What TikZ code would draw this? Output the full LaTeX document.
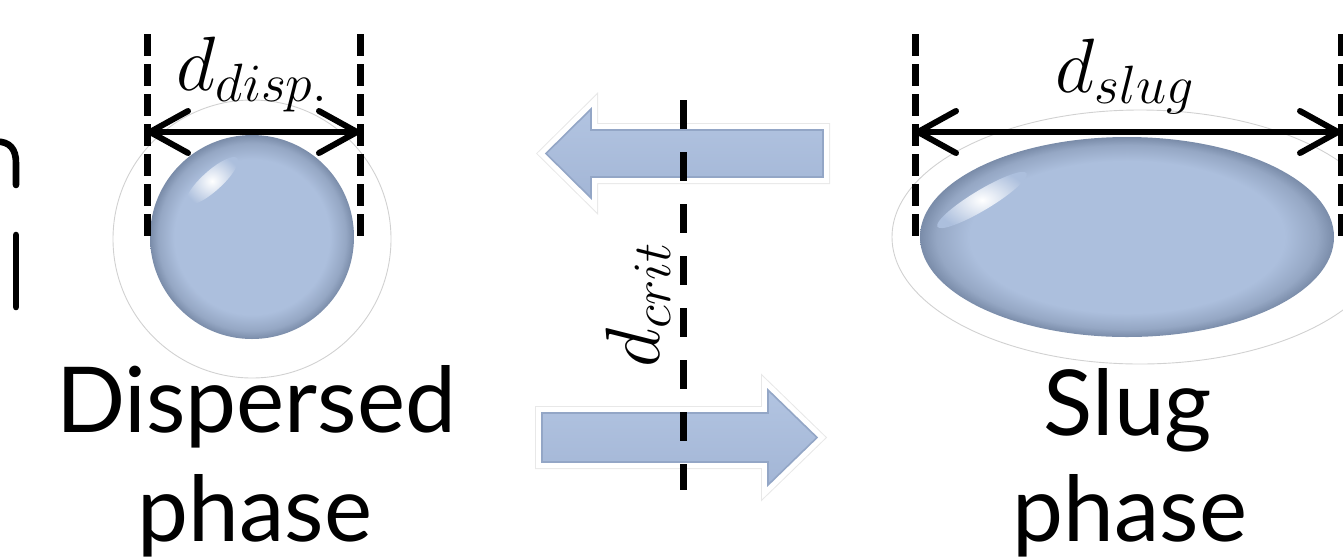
\RequirePackage{fix-cm}
\documentclass[tikz,border=0pt]{standalone}
\usepackage{fontspec}
\setmainfont{Lato}
\usetikzlibrary{arrows.meta}

\definecolor{ballmid}{HTML}{ACBFDD}
\definecolor{ballrim}{HTML}{95A7C4}
\definecolor{balldark}{HTML}{7A8CA9}
\definecolor{arrtop}{HTML}{B2C4E1}
\definecolor{arrbot}{HTML}{A3B6D6}
\definecolor{arrline}{HTML}{93A6C6}

% droplet body: flat centre, darker bevelled rim
\pgfdeclareradialshading{droplet}{\pgfpoint{0bp}{0bp}}{%
  color(0bp)=(ballmid); color(19bp)=(ballmid); color(23bp)=(ballrim);
  color(25bp)=(balldark); color(50bp)=(balldark)}

\newcommand{\blockarrow}[1]{%
  \draw[arrglow] #1;
  \draw[arrrim] #1;
  \shade[arrbody] #1;
  \draw[arredge] #1;}

\tikzset{
  barb/.tip={Straight Barb[length=38pt, width=42pt, round]},
  glyphstroke/.style={line width=6.6pt, line cap=round},
  guide/.style={line width=7pt, dash pattern=on 22pt off 8pt},
  critline/.style={line width=7pt, dash pattern=on 29pt off 23pt},
  halo/.style={draw=black!18, line width=0.9pt},
  dim/.style={line width=6pt, barb-barb},
  phase/.style={font=\fontsize{91}{110}\selectfont, inner sep=0pt, anchor=base},
  mlabel/.style={font=\fontsize{77}{90}\selectfont, inner sep=0pt},
  arrglow/.style={draw=black!9, line width=14pt, line join=miter},
  arrrim/.style={draw=white, line width=12pt, line join=miter},
  arrbody/.style={top color=arrtop, bottom color=arrbot},
  arredge/.style={draw=arrline, line width=1.6pt, line join=miter},
  gloss/.style={inner color=white, outer color=ballmid},
}

\begin{document}
\begin{tikzpicture}[x=1pt, y=-1pt]
\useasboundingbox (0,0) rectangle (1343,558);
\clip (0,0) rectangle (1343,558);

% strokes of lettering cut off at the left border
\draw[glyphstroke] (-4,141.5) .. controls (10,141.5) and (16,149) .. (16,163) -- (16,185);
\draw[glyphstroke] (16,235) -- (16,307);

% ---------------- dispersed droplet ----------------
\coordinate (sc) at (252,237);
\draw[halo] (252,239) circle [radius=139];
\shade[shading=droplet] (sc) circle [radius=102];
\shade[gloss, rotate around={42:(212,181)}] (212,181) ellipse [x radius=34, y radius=10];

\coordinate (gl1) at (147,34);  \coordinate (gl2) at (147,238);
\coordinate (gr1) at (360,34);  \coordinate (gr2) at (360,238);
\draw[guide] (gl1) -- (gl2);
\draw[guide] (gr1) -- (gr2);
\coordinate (dl) at (147,132);  \coordinate (dr) at (360,132);
\draw[dim] (dl) -- (dr);
\node[mlabel, anchor=base] (ddisp) at (252,90) {$d_{disp.}$};

\node[phase] (disp1) at (256,432) {Dispersed};
\node[phase] (disp2) at (255,541) {phase};

% ---------------- transition arrows ----------------
\blockarrow{(546,153.5) -- (591,109) -- (591,130) -- (823,130) -- (823,177) -- (591,177) -- (591,198) -- cycle}
\blockarrow{(817,437.5) -- (768,390) -- (768,413) -- (542,413) -- (542,462) -- (768,462) -- (768,485) -- cycle}

\coordinate (c1) at (683,100);  \coordinate (c2) at (683,490);
\draw[critline] (c1) -- (c2);
\node[mlabel, rotate=90, anchor=base west] (dcrit) at (659,368) {$d_{crit}$};

% ---------------- slug ----------------
\coordinate (ec) at (1127,237);
\draw[halo] (1140,237) ellipse [x radius=248, y radius=127];
\shade[shading=droplet] (ec) ellipse [x radius=207, y radius=100];
\shade[gloss, rotate around={31:(982,200)}] (982,200) ellipse [x radius=52, y radius=10];

\coordinate (sl1) at (915,34);   \coordinate (sl2) at (915,238);
\coordinate (sr1) at (1341,34);  \coordinate (sr2) at (1341,238);
\draw[guide] (sl1) -- (sl2);
\draw[guide] (sr1) -- (sr2);
\coordinate (el) at (915,132);  \coordinate (er) at (1341,132);
\draw[dim] (el) -- (er);
\node[mlabel, anchor=base] (dslug) at (1125,92) {$d_{slug}$};

\node[phase] (slug1) at (1128,435) {Slug};
\node[phase] (slug2) at (1130,541) {phase};
\end{tikzpicture}
\end{document}
